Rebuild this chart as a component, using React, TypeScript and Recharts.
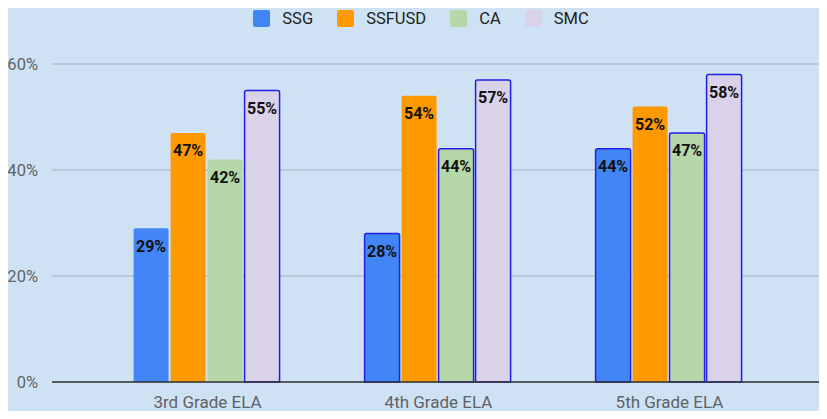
import { BarChart, Bar, XAxis, YAxis, CartesianGrid, Legend, LabelList, Cell } from 'recharts'

const grades = ['3rd Grade ELA', '4th Grade ELA', '5th Grade ELA']
const ssg = [29, 28, 44]
const ssfusd = [47, 54, 52]
const ca = [42, 44, 47]
const smc = [55, 57, 58]
const yTicks = [0, 20, 40, 60]

const chartData = grades.map((name, i) => ({
    name,
    SSG: ssg[i],
    SSFUSD: ssfusd[i],
    CA: ca[i],
    SMC: smc[i],
}))

// which bars carry the blue outline in the original
const outlined: Record<string, boolean[]> = {
    SSG: [false, true, true],
    SSFUSD: [false, false, false],
    CA: [false, true, true],
    SMC: [true, true, true],
}

const series = [
    { key: 'SSG', color: '#4285f4' },
    { key: 'SSFUSD', color: '#ff9900' },
    { key: 'CA', color: '#b6d7a8' },
    { key: 'SMC', color: '#d9d2e9' },
]

const LegendContent = () => (
    <div style={{ display: 'flex', justifyContent: 'center', height: 30, alignItems: 'center', fontFamily: 'Roboto', fontSize: 16.5, color: '#222', paddingLeft: 44 }}>
        {series.map((s) => (
            <div key={s.key} style={{ display: 'flex', alignItems: 'center', marginRight: 24 }}>
                <span style={{ width: 17, height: 17, background: s.color, borderRadius: 2, marginRight: 12, display: 'inline-block' }} />
                <span>{s.key}</span>
            </div>
        ))}
    </div>
)

export default function App() {
    return (
        <div style={{ margin: -8, background: '#cfe2f3', width: 827, height: 419 }}>
            <BarChart
                width={827}
                height={419}
                data={chartData}
                margin={{ top: 34, right: 5, left: 0, bottom: 7 }}
                barCategoryGap='18%'
                barGap={2}
                style={{ fontFamily: 'Roboto' }}
            >
                <Legend verticalAlign='top' content={<LegendContent />} wrapperStyle={{ top: 3 }} />
                <CartesianGrid vertical={false} stroke='#a3b1bf' />
                <XAxis
                    dataKey='name'
                    tickLine={false}
                    axisLine={{ stroke: '#333', strokeWidth: 1.5 }}
                    tick={{ fill: '#5f6368', fontSize: 17 }}
                    tickMargin={8}
                    height={30}
                    padding={{ left: 40, right: 37 }}
                />
                <YAxis
                    width={52}
                    domain={[0, 60]}
                    ticks={yTicks}
                    tickFormatter={(v) => v + '%'}
                    tickLine={false}
                    axisLine={false}
                    tick={{ fill: '#5f6368', fontSize: 16.5 }}
                    tickMargin={8}
                />
                {series.map((s) => (
                    <Bar key={s.key} dataKey={s.key} fill={s.color} radius={[2, 2, 0, 0]} isAnimationActive={false}>
                        {chartData.map((_, i) => (
                            <Cell
                                key={i}
                                stroke={outlined[s.key][i] ? '#1f1fe6' : 'none'}
                                strokeWidth={1.5}
                            />
                        ))}
                        <LabelList
                            dataKey={s.key}
                            position='insideTop'
                            offset={12}
                            fill='#111'
                            fontSize={16}
                            fontWeight='bold'
                            formatter={(v: any) => v + '%'}
                        />
                    </Bar>
                ))}
            </BarChart>
        </div>
    )
}
